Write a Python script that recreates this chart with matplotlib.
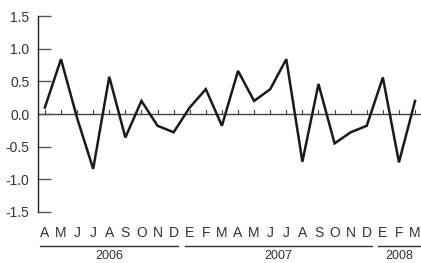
import matplotlib
matplotlib.use('Agg')
import matplotlib.pyplot as plt
import matplotlib.transforms as mtransforms
import numpy as np

months = ['A', 'M', 'J', 'J', 'A', 'S', 'O', 'N', 'D',
          'E', 'F', 'M', 'A', 'M', 'J', 'J', 'A', 'S', 'O', 'N', 'D',
          'E', 'F', 'M']
values = [0.10, 0.84, -0.06, -0.84, 0.57, -0.36, 0.20, -0.18, -0.28,
          0.10, 0.38, -0.18, 0.66, 0.20, 0.38, 0.84, -0.73, 0.46, -0.45, -0.28, -0.18,
          0.56, -0.74, 0.20]
years = ['2006', '2007', '2008']
year_counts = [9, 12, 3]
yticks = [-1.5, -1.0, -0.5, 0.0, 0.5, 1.0, 1.5]

plt.rcParams['font.family'] = ['Liberation Sans', 'DejaVu Sans']

fig = plt.figure(figsize=(4.21, 2.63), dpi=100)
ax = fig.add_axes([0.090, 0.194, 0.910, 0.745])

x = np.arange(len(values))
ax.plot(x, values, color='#1a1a1a', lw=1.8, solid_joinstyle='miter')
ax.axhline(0, color='#444444', lw=1.0, zorder=1)

# small ticks on the zero line
for xi in x:
    ax.plot([xi, xi], [0, 0.06], color='#444444', lw=0.8)

ax.set_xlim(-0.435, len(values) - 1 + 0.37)
ax.set_ylim(-1.5, 1.5)
ax.set_yticks(yticks)
ax.set_yticklabels(['%.1f' % v for v in yticks], fontsize=10, color='#333333')
ax.tick_params(axis='y', direction='in', length=9, width=1.0, color='#555555', pad=6)
ax.set_xticks([])
for s in ['top', 'right', 'bottom']:
    ax.spines[s].set_visible(False)
ax.spines['left'].set_color('#222222')
ax.spines['left'].set_linewidth(1.0)

trans = mtransforms.blended_transform_factory(ax.transData, ax.transAxes)
for xi, m in zip(x, months):
    ax.text(xi, -0.105, m, transform=trans, ha='center', va='center', fontsize=10, color='#333333')

start = 0
for yr, n in zip(years, year_counts):
    x0 = start - 0.3
    x1 = start + n - 1 + 0.3
    if start + n == len(values):
        x1 = len(values) - 1 + 0.37
    ax.plot([x0, x1], [-0.172, -0.172], transform=trans, color='#333333', lw=1.0, clip_on=False)
    ax.text((start + start + n - 1) / 2, -0.195, yr, transform=trans, ha='center', va='top', fontsize=9, color='#333333')
    start += n

fig.savefig('out.png', dpi=100)
